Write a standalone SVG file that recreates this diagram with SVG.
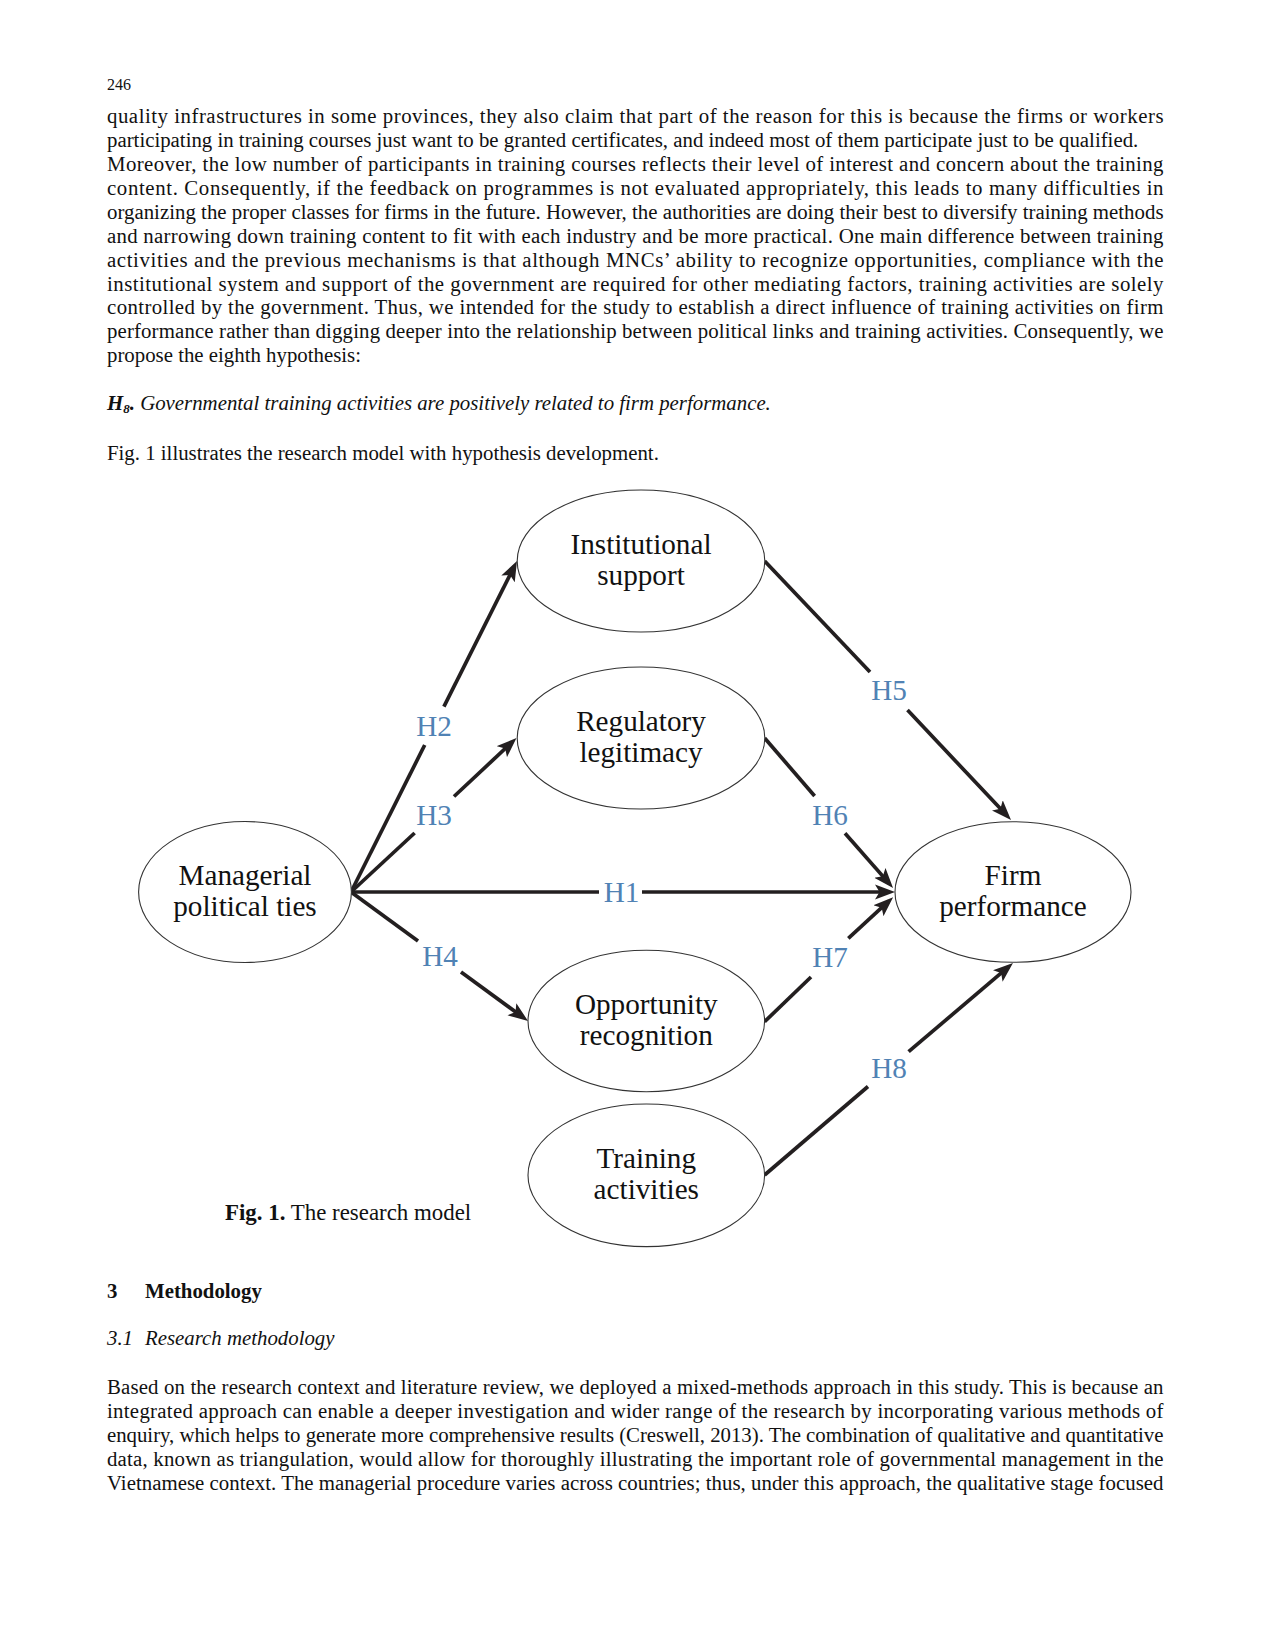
<svg xmlns="http://www.w3.org/2000/svg" width="1274" height="1649" viewBox="0 0 1274 1649">
<style>
.body{font-family:"Liberation Serif","Times New Roman",serif;font-size:20.83px;fill:#111;}
.node ellipse{fill:#fff;stroke:#333;stroke-width:1.1;}
.node text{font-family:"Liberation Serif","Times New Roman",serif;font-size:29.2px;fill:#111;text-anchor:middle;}
.conn{stroke:#231f20;stroke-width:3.7;fill:none;}
.lbl{font-family:"Liberation Serif","Times New Roman",serif;font-size:29.2px;fill:#5082b4;text-anchor:middle;}
</style>
<defs>
<marker id="ah" markerUnits="userSpaceOnUse" markerWidth="21" markerHeight="16" refX="14" refY="8" orient="auto">
<path d="M0,0.5 L20,8 L0,15.5 L4.5,8 Z" fill="#231f20"/>
</marker>
</defs>
<rect width="1274" height="1649" fill="#fff"/>

<g id="page-text-top" class="body">
<text x="107" y="90" font-size="16">246</text>
<text x="107" y="123" textLength="1056.5" lengthAdjust="spacing">quality infrastructures in some provinces, they also claim that part of the reason for this is because the firms or workers</text>
<text x="107" y="147">participating in training courses just want to be granted certificates, and indeed most of them participate just to be qualified.</text>
<text x="107" y="171" textLength="1056.5" lengthAdjust="spacing">Moreover, the low number of participants in training courses reflects their level of interest and concern about the training</text>
<text x="107" y="195" textLength="1056.5" lengthAdjust="spacing">content. Consequently, if the feedback on programmes is not evaluated appropriately, this leads to many difficulties in</text>
<text x="107" y="219" textLength="1056.5" lengthAdjust="spacing">organizing the proper classes for firms in the future. However, the authorities are doing their best to diversify training methods</text>
<text x="107" y="243" textLength="1056.5" lengthAdjust="spacing">and narrowing down training content to fit with each industry and be more practical. One main difference between training</text>
<text x="107" y="267" textLength="1056.5" lengthAdjust="spacing">activities and the previous mechanisms is that although MNCs’ ability to recognize opportunities, compliance with the</text>
<text x="107" y="291" textLength="1056.5" lengthAdjust="spacing">institutional system and support of the government are required for other mediating factors, training activities are solely</text>
<text x="107" y="314" textLength="1056.5" lengthAdjust="spacing">controlled by the government. Thus, we intended for the study to establish a direct influence of training activities on firm</text>
<text x="107" y="338" textLength="1056.5" lengthAdjust="spacing">performance rather than digging deeper into the relationship between political links and training activities. Consequently, we</text>
<text x="107" y="362">propose the eighth hypothesis:</text>
<text x="107" y="410" font-style="italic"><tspan font-weight="bold">H</tspan><tspan font-weight="bold" font-size="13" dy="3">8</tspan><tspan font-weight="bold" dy="-3">.</tspan> Governmental training activities are positively related to firm performance.</text>
<text x="107" y="460">Fig. 1 illustrates the research model with hypothesis development.</text>
</g>

<g id="connectors">
<path class="conn" d="M351,892 L424.7,745"/>
<path class="conn" d="M443.9,706.7 L514.3,566.4" marker-end="url(#ah)"/>
<path class="conn" d="M351,892 L414.6,833"/>
<path class="conn" d="M454,796.5 L512.1,742.1" marker-end="url(#ah)"/>
<path class="conn" d="M351,892 L599,892"/>
<path class="conn" d="M642,892 L889,892" marker-end="url(#ah)"/>
<path class="conn" d="M351,892 L418,941"/>
<path class="conn" d="M461,972 L523.2,1017.5" marker-end="url(#ah)"/>
<path class="conn" d="M764.6,561 L870,672"/>
<path class="conn" d="M907.5,710 L1006.9,815.6" marker-end="url(#ah)"/>
<path class="conn" d="M764.6,738 L814.6,796"/>
<path class="conn" d="M845,833.3 L889.1,883.4" marker-end="url(#ah)"/>
<path class="conn" d="M764.6,1021.7 L811,977"/>
<path class="conn" d="M848.3,938.3 L888.7,901.2" marker-end="url(#ah)"/>
<path class="conn" d="M764.6,1175 L868,1086.5"/>
<path class="conn" d="M908.6,1051.7 L1008.4,966.9" marker-end="url(#ah)"/>
<text class="lbl" x="621.5" y="902">H1</text>
<text class="lbl" x="434" y="736">H2</text>
<text class="lbl" x="434" y="825">H3</text>
<text class="lbl" x="440" y="966">H4</text>
<text class="lbl" x="889" y="700">H5</text>
<text class="lbl" x="830" y="825">H6</text>
<text class="lbl" x="830" y="967">H7</text>
<text class="lbl" x="889" y="1078">H8</text>
</g>

<g id="node-managerial" class="node">
<ellipse cx="245" cy="892" rx="106.4" ry="70.5"/>
<text x="245" y="885">Managerial</text>
<text x="245" y="915.5">political ties</text>
</g>
<g id="node-institutional" class="node">
<ellipse cx="641" cy="561" rx="123.8" ry="71"/>
<text x="641" y="554">Institutional</text>
<text x="641" y="584.5">support</text>
</g>
<g id="node-regulatory" class="node">
<ellipse cx="641" cy="738" rx="123.8" ry="71"/>
<text x="641" y="731">Regulatory</text>
<text x="641" y="761.5">legitimacy</text>
</g>
<g id="node-opportunity" class="node">
<ellipse cx="646.3" cy="1021" rx="118.3" ry="70.7"/>
<text x="646.3" y="1014">Opportunity</text>
<text x="646.3" y="1044.5">recognition</text>
</g>
<g id="node-training" class="node">
<ellipse cx="646.3" cy="1175.3" rx="118.3" ry="71.3"/>
<text x="646.3" y="1168.3">Training</text>
<text x="646.3" y="1198.8">activities</text>
</g>
<g id="node-firm" class="node">
<ellipse cx="1013" cy="892" rx="118" ry="70.3"/>
<text x="1013" y="885">Firm</text>
<text x="1013" y="915.5">performance</text>
</g>

<g id="page-text-bottom" class="body">
<text x="225" y="1220" font-size="22.9"><tspan font-weight="bold">Fig. 1.</tspan> The research model</text>
<text x="107" y="1298" font-weight="bold">3</text>
<text x="145" y="1298" font-weight="bold">Methodology</text>
<text x="107" y="1345" font-style="italic">3.1</text>
<text x="145" y="1345" font-style="italic">Research methodology</text>
<text x="107" y="1394" textLength="1056.5" lengthAdjust="spacing">Based on the research context and literature review, we deployed a mixed-methods approach in this study. This is because an</text>
<text x="107" y="1418" textLength="1056.5" lengthAdjust="spacing">integrated approach can enable a deeper investigation and wider range of the research by incorporating various methods of</text>
<text x="107" y="1442" textLength="1056.5" lengthAdjust="spacing">enquiry, which helps to generate more comprehensive results (Creswell, 2013). The combination of qualitative and quantitative</text>
<text x="107" y="1466" textLength="1056.5" lengthAdjust="spacing">data, known as triangulation, would allow for thoroughly illustrating the important role of governmental management in the</text>
<text x="107" y="1490" textLength="1056.5" lengthAdjust="spacing">Vietnamese context. The managerial procedure varies across countries; thus, under this approach, the qualitative stage focused</text>
</g>
</svg>
